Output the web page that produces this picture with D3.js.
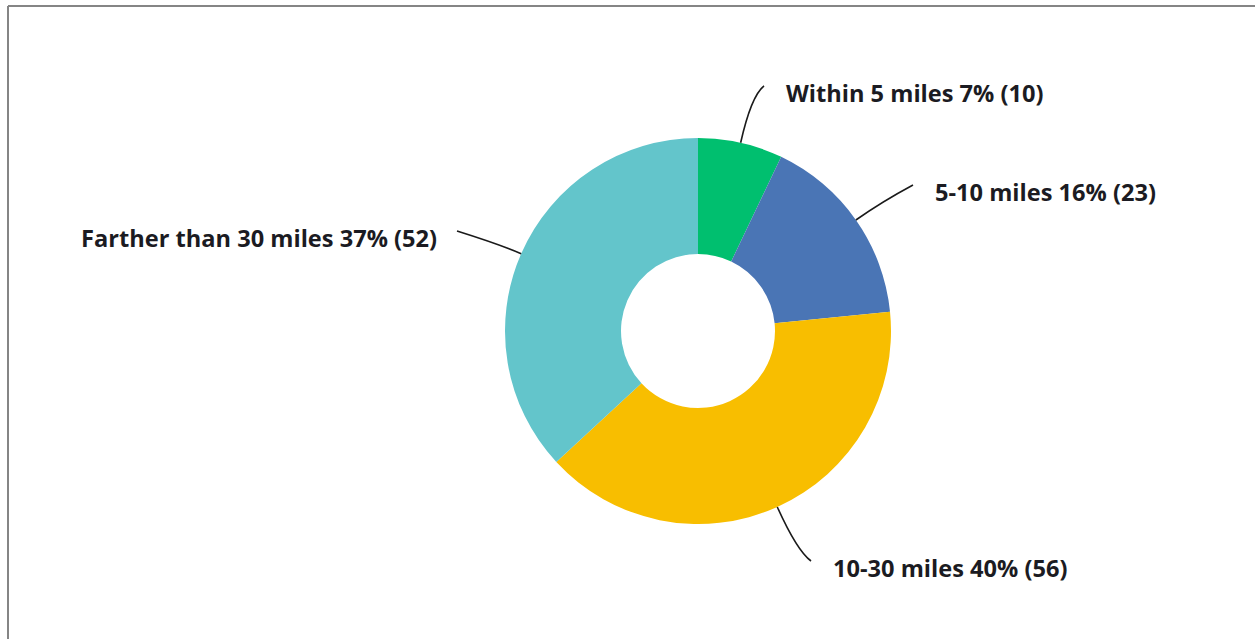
<!DOCTYPE html>
<html>
<head>
<meta charset="utf-8">
<script src="https://cdn.jsdelivr.net/npm/d3@7"></script>
<style>
  html, body { margin: 0; padding: 0; background: #ffffff; }
  svg { display: block; }
</style>
</head>
<body>
<svg id="chart" width="1255" height="639"></svg>
<script>
// ---- data ----
const categories = ["Within 5 miles", "5-10 miles", "10-30 miles", "Farther than 30 miles"];
const counts = [10, 23, 56, 52];
const percents = ["7%", "16%", "40%", "37%"];
const colors = ["#00BF6F", "#4A75B5", "#F8BE00", "#63C5CB"];

// ---- layout (label anchors) ----
const labelPos = [
  { x: 786, y: 102, anchor: "start" },
  { x: 935, y: 201, anchor: "start" },
  { x: 833, y: 577, anchor: "start" },
  { x: 437, y: 247, anchor: "end" }
];

const W = 1255, H = 639;
const cx = 698, cy = 331;
const rOuter = 193, rInner = 77;

const svg = d3.select("#chart");

// frame
svg.append("line").attr("x1", 8).attr("y1", 6).attr("x2", W).attr("y2", 6)
  .attr("stroke", "#858585").attr("stroke-width", 2);
svg.append("line").attr("x1", 8).attr("y1", 6).attr("x2", 8).attr("y2", H)
  .attr("stroke", "#858585").attr("stroke-width", 2);

const data = categories.map((c, i) => ({ cat: c, value: counts[i], pct: percents[i], color: colors[i], i }));

const pie = d3.pie().value(d => d.value).sort(null);
const arcs = pie(data);
const arc = d3.arc().innerRadius(rInner).outerRadius(rOuter);

const g = svg.append("g").attr("transform", `translate(${cx},${cy})`);
g.selectAll("path.slice").data(arcs).enter().append("path")
  .attr("class", "slice")
  .attr("d", arc)
  .attr("fill", d => d.data.color);

// leader lines
const ext = [48, 32, 48, 22];
arcs.forEach((a, i) => {
  const mid = (a.startAngle + a.endAngle) / 2;
  const sx = cx + rOuter * Math.sin(mid), sy = cy - rOuter * Math.cos(mid);
  const r2 = rOuter + ext[i];
  const qx = cx + r2 * Math.sin(mid), qy = cy - r2 * Math.cos(mid);
  const lp = labelPos[i];
  const ex = lp.anchor === "start" ? lp.x - 22 : lp.x + 20;
  const ey = lp.y - 16;
  const p = d3.path();
  p.moveTo(sx, sy);
  p.quadraticCurveTo(qx, qy, ex, ey);
  svg.append("path").attr("d", p.toString())
    .attr("fill", "none").attr("stroke", "#1a1a1a").attr("stroke-width", 1.6);
  svg.append("text")
    .attr("x", lp.x).attr("y", lp.y)
    .attr("text-anchor", lp.anchor)
    .attr("font-family", "'Open Sans', 'Noto Sans', sans-serif")
    .attr("font-weight", "bold")
    .attr("font-size", 23.6)
    .attr("fill", "#1b1b22")
    .text(`${a.data.cat} ${a.data.pct} (${a.data.value})`);
});
</script>
</body>
</html>
